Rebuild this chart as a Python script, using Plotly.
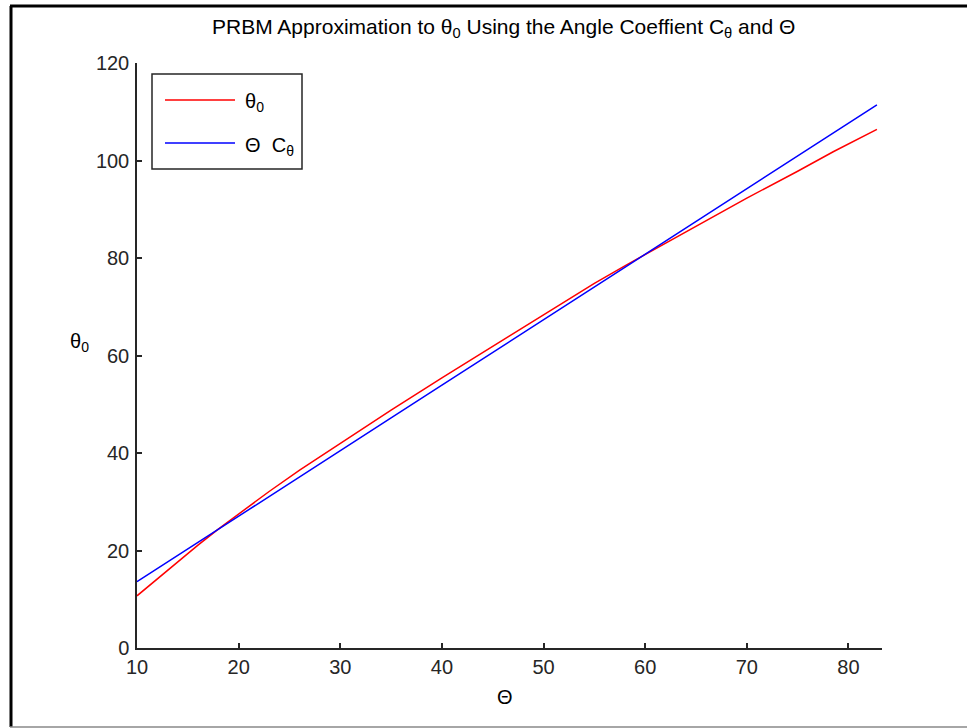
import plotly.graph_objects as go

# Pseudo-rigid-body model: Θ (deg) vs. tip angle θ0 (deg)
theta_big = [10, 12, 14, 16, 18, 20, 23, 26, 30, 35, 40, 45, 50, 52.3, 55, 58, 60,
             62, 65, 70, 75, 78.5, 82.8]
theta0 = [10.7, 14.2, 17.7, 21.1, 24.4, 27.5, 32.1, 36.5, 42.0, 48.8, 55.4, 61.9, 68.3,
          71.4, 74.8, 78.4, 80.7, 83.0, 86.4, 92.3, 97.8, 101.8, 106.4]
theta_c = [13.6, 16.3, 19.0, 21.7, 24.3, 27.0, 31.0, 35.1, 40.5, 47.2, 53.9, 60.6, 67.3,
           70.4, 74.0, 78.0, 80.7, 83.4, 87.4, 94.1, 100.8, 105.6, 111.4]

x_ticks = [10, 20, 30, 40, 50, 60, 70, 80]
y_ticks = [0, 20, 40, 60, 80, 100, 120]

FONT = "Liberation Sans"
W, H = 967, 728
L, R, T, B = 137, 882, 63, 648


def px(x):
    return (x - L) / (R - L)


def py(y):
    return (B - y) / (B - T)


fig = go.Figure()
fig.add_trace(go.Scatter(x=theta_big, y=theta0, mode="lines", name="θ0",
                         line=dict(color="#ff0000", width=1.5), showlegend=False))
fig.add_trace(go.Scatter(x=theta_big, y=theta_c, mode="lines", name="Θ Cθ",
                         line=dict(color="#0000ff", width=1.5), showlegend=False))

axis_common = dict(
    showgrid=False, zeroline=False, showline=True, linecolor="#262626", linewidth=1.5,
    ticks="inside", ticklen=5, tickwidth=1.5, tickcolor="#262626", mirror=False,
    tickfont=dict(family=FONT, size=20, color="#262626"),
)

fig.update_layout(
    width=W, height=H,
    margin=dict(l=L, r=W - R, t=T, b=H - B),
    paper_bgcolor="white", plot_bgcolor="white",
    xaxis=dict(range=[10, 83.3], tickvals=x_ticks, **axis_common),
    yaxis=dict(range=[0, 120], tickvals=y_ticks, ticklabelstandoff=2, **axis_common),
)


def label(text, x, y, size=20, anchor="center"):
    fig.add_annotation(text=text, xref="paper", yref="paper", x=px(x), y=py(y),
                       xanchor=anchor, yanchor="middle", showarrow=False,
                       font=dict(family=FONT, size=size, color="black"))


# Title and axis labels
label("PRBM Approximation to θ<sub>0</sub> Using the Angle Coeffient C<sub>θ</sub> and Θ",
      503, 28, size=21)
label("θ<sub>0</sub>", 79, 342)
label("Θ", 505, 697)

# Legend box
fig.add_shape(type="rect", xref="paper", yref="paper", x0=px(152), x1=px(302),
              y0=py(169), y1=py(74), line=dict(color="#262626", width=1.5),
              fillcolor="white")
legend_items = [("θ<sub>0</sub>", "#ff0000", 100), ("Θ  C<sub>θ</sub>", "#0000ff", 143)]
for text, color, yy in legend_items:
    fig.add_shape(type="line", xref="paper", yref="paper", x0=px(165), x1=px(235),
                  y0=py(yy), y1=py(yy), line=dict(color=color, width=1.5))
    label(text, 243, yy + 3, anchor="left")

# Frame around the figure
fig.add_shape(type="line", xref="paper", yref="paper", x0=px(11), x1=px(11),
              y0=py(6), y1=py(727), line=dict(color="black", width=3))
fig.add_shape(type="line", xref="paper", yref="paper", x0=px(10), x1=px(967),
              y0=py(6), y1=py(6), line=dict(color="black", width=3))
fig.add_shape(type="line", xref="paper", yref="paper", x0=px(10), x1=px(967),
              y0=py(727), y1=py(727), line=dict(color="#888888", width=1.5))

fig.write_html("out.html")
